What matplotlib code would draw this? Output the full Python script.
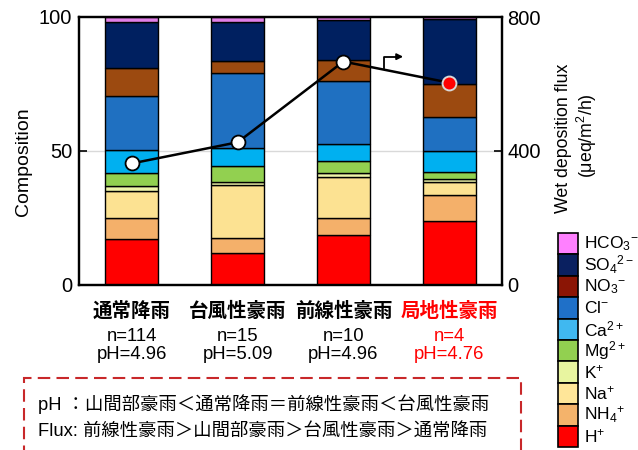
import matplotlib
matplotlib.use("Agg")
import matplotlib.pyplot as plt
from matplotlib.patches import Rectangle
import numpy as np

plt.rcParams['font.family'] = ['Liberation Sans', 'Noto Sans CJK JP']
plt.rcParams['mathtext.fontset'] = 'custom'
plt.rcParams['mathtext.rm'] = 'Liberation Sans'
plt.rcParams['mathtext.it'] = 'Liberation Sans:italic'
plt.rcParams['mathtext.bf'] = 'Liberation Sans:bold'

# Rain types
categories = ['通常降雨', '台風性豪雨', '前線性豪雨', '局地性豪雨']
n_labels = ['n=114', 'n=15', 'n=10', 'n=4']
ph_labels = ['pH=4.96', 'pH=5.09', 'pH=4.96', 'pH=4.76']

# Ionic composition (%), stacked from bottom
h_plus = [17.0, 12.1, 18.5, 23.9]
nh4 = [7.9, 5.4, 6.4, 9.7]
na = [10.1, 19.7, 15.3, 4.7]
k_plus = [1.9, 1.3, 1.5, 1.3]
mg = [4.8, 5.9, 4.7, 2.6]
ca = [8.7, 6.6, 6.2, 7.8]
cl = [20.1, 28.2, 23.5, 12.8]
no3 = [10.3, 4.5, 7.8, 12.2]
so4 = [17.3, 14.5, 15.0, 24.1]
hco3 = [1.9, 1.8, 1.1, 0.9]

# Wet deposition flux (μeq/m²/h)
flux = [363, 426, 667, 604]

ion_labels = ['H$^{+}$', 'NH$_4$$^{+}$', 'Na$^{+}$', 'K$^{+}$', 'Mg$^{2+}$',
              'Ca$^{2+}$', 'Cl$^{-}$', 'NO$_3$$^{-}$', 'SO$_4$$^{2-}$', 'HCO$_3$$^{-}$']
series = [h_plus, nh4, na, k_plus, mg, ca, cl, no3, so4, hco3]
bar_colors = ['#FF0000', '#F4B06A', '#FCE292', '#EEF4A8', '#92D050',
              '#00B0F0', '#1F70C1', '#9C4A10', '#002060', '#E080E8']
legend_colors = ['#FF0000', '#F4B36B', '#FFE699', '#E8F5A0', '#92D050',
                 '#40B8F0', '#1F70C8', '#8B1505', '#0A2060', '#FF80FF']

W, H = 638, 450
fig = plt.figure(figsize=(W / 100, H / 100), dpi=100)
ax = fig.add_axes([79 / W, 1 - 285 / H, 423 / W, 268 / H])

x = np.arange(len(categories))
bottom = np.zeros(len(categories))
for vals, col in zip(series, bar_colors):
    ax.bar(x, vals, width=0.5, bottom=bottom, color=col, edgecolor='black',
           linewidth=1.0, zorder=2)
    bottom += np.array(vals)

ax.set_xlim(-0.5, 3.5)
ax.set_ylim(0, 100)
ax.set_yticks([0, 50, 100])
ax.set_xticks([])
ax.axhline(50, color='#d9d9d9', linewidth=1.0, zorder=1)
ax.tick_params(axis='y', direction='in', length=6, width=1.2, labelsize=14.5, pad=5)
for s in ax.spines.values():
    s.set_linewidth(1.6)

# Arrow pointing to the right-hand axis
ax.plot([2.381, 2.381, 2.52], [80.9, 85.2, 85.2], color='black', lw=1.3, zorder=5)
ax.annotate('', xy=(2.565, 85.2), xytext=(2.50, 85.2),
            arrowprops=dict(arrowstyle='-|>', color='black', lw=1.3,
                            mutation_scale=9, shrinkA=0, shrinkB=0), zorder=5)

ax2 = ax.twinx()
ax2.set_ylim(0, 800)
ax2.set_yticks([0, 400, 800])
ax2.tick_params(axis='y', direction='in', length=6, width=1.2, labelsize=14.5, pad=4)
for s in ax2.spines.values():
    s.set_linewidth(1.6)
ax2.plot(x, flux, color='black', lw=1.8, zorder=3)
ax2.plot(x[:3], flux[:3], 'o', ms=10, mfc='white', mec='black', mew=1.3, zorder=4)
ax2.plot(x[3:], flux[3:], 'o', ms=10, mfc='#FF0000', mec='#d8d8d8', mew=1.4, zorder=4)

# Axis titles
fig.text(23.5 / W, 1 - 162 / H, 'Composition', rotation=90, ha='center',
         va='center', fontsize=14)
fig.text(564 / W, 1 - 138.5 / H, 'Wet deposition flux', rotation=90,
         ha='center', va='center', fontsize=12.8)
fig.text(587 / W, 1 - 136 / H, '(μeq/m$^{2}$/h)', rotation=90,
         ha='center', va='center', fontsize=12.8)

# Category labels with sample counts and mean pH
for i, (c, nl, pl) in enumerate(zip(categories, n_labels, ph_labels)):
    col = 'red' if i == 3 else 'black'
    ax.text(i, -0.097, c, transform=ax.get_xaxis_transform(), ha='center',
            va='center', fontsize=14, fontweight='bold', color=col,
            family=['Noto Sans CJK JP'])
    ax.text(i, -0.194, nl, transform=ax.get_xaxis_transform(), ha='center',
            va='center', fontsize=13.3, color=col)
    ax.text(i, -0.261, pl, transform=ax.get_xaxis_transform(), ha='center',
            va='center', fontsize=13.3, color=col)

# Legend drawn as a column of swatches
top = 233
step = 21.4
for j in range(len(series)):
    idx = len(series) - 1 - j
    y0 = top + j * step
    fig.add_artist(Rectangle((558 / W, 1 - (y0 + step) / H), 20 / W, step / H,
                             transform=fig.transFigure, facecolor=legend_colors[idx],
                             edgecolor='black', linewidth=1.2))
    fig.text(584 / W, 1 - (y0 + step / 2) / H, ion_labels[idx], ha='left',
             va='center', fontsize=12.5)

# Summary box
fig.add_artist(Rectangle((23.5 / W, -0.05), (521 - 23.5) / W, 1.05 - 377.6 / H,
                         transform=fig.transFigure, fill=False, edgecolor='#C8282A',
                         linewidth=1.5, linestyle=(0, (6, 3))))
fig.text(38 / W, 1 - 404.5 / H, 'pH ：山間部豪雨＜通常降雨＝前線性豪雨＜台風性豪雨',
         ha='left', va='center', fontsize=13.2)
fig.text(38 / W, 1 - 432 / H, 'Flux: 前線性豪雨＞山間部豪雨＞台風性豪雨＞通常降雨',
         ha='left', va='center', fontsize=13.2)

fig.savefig('out.png', dpi=100)
